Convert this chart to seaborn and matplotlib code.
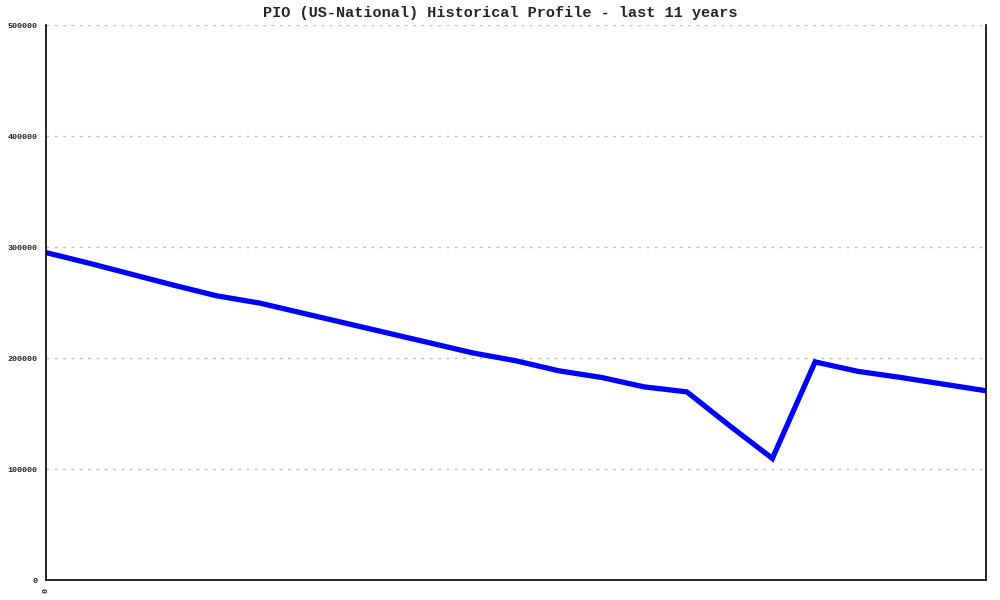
import numpy as np
import pandas as pd
import matplotlib
matplotlib.use("Agg")
import matplotlib.pyplot as plt
import seaborn as sns

# data (one point per half-year, 23 points)
periods = list(range(23))
values = [295000, 285500, 275500, 265500, 256000, 249500, 240500, 231500,
          222500, 213500, 204500, 197500, 188500, 182500, 174000, 169500,
          139000, 109500, 196500, 188000, 182500, 176500, 170500]
y_ticks = [0, 100000, 200000, 300000, 400000, 500000]
title = "PIO (US-National) Historical Profile - last 11 years"

sns.set_style("white")
plt.rcParams["font.family"] = ["Liberation Mono", "DejaVu Sans Mono"]

df = pd.DataFrame({"period": periods, "value": values})

fig = plt.figure(figsize=(10, 6), dpi=100)
ax = fig.add_axes([0.046, 0.0333, 0.94, 0.925])

sns.lineplot(data=df, x="period", y="value", ax=ax, color="#0000ff",
             linewidth=3.8, solid_joinstyle="miter")

ax.set_xlim(0, 22)
ax.set_ylim(0, 500000)
ax.set_yticks(y_ticks)
ax.set_yticklabels([str(v) for v in y_ticks], fontsize=6, fontweight="bold")
ax.set_xticks([0])
ax.set_xticklabels(["0"], rotation=90, fontsize=6, fontweight="bold")
ax.tick_params(axis="both", length=4, width=1, color="black", direction="out", pad=2)
ax.yaxis.grid(True, linestyle=(0, (2, 4)), color="#c0c0c0", linewidth=1)
ax.xaxis.grid(False)
ax.set_xlabel("")
ax.set_ylabel("")

for side in ["left", "bottom", "right"]:
    ax.spines[side].set_visible(True)
    ax.spines[side].set_color("black")
    ax.spines[side].set_linewidth(1.2)
ax.spines["top"].set_visible(False)

fig.text(0.5, 0.978, title, ha="center", va="center", fontsize=11, fontweight="bold")

fig.savefig("out.png", dpi=100)
